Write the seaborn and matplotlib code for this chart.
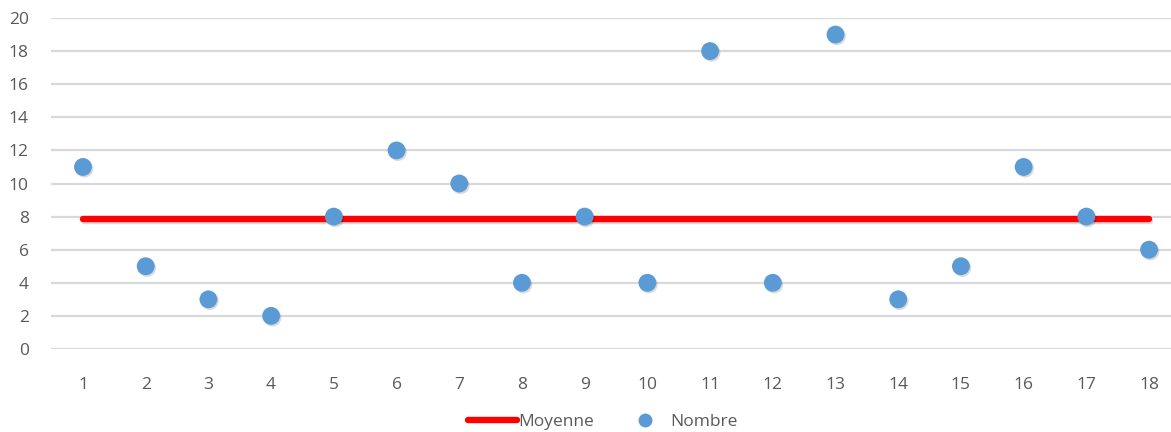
import numpy as np
import pandas as pd
import matplotlib
matplotlib.use("Agg")
import matplotlib.pyplot as plt
import matplotlib.patheffects as pe
from matplotlib.lines import Line2D
import seaborn as sns

# Data
positions = list(range(1, 19))
nombre = [11, 5, 3, 2, 8, 12, 10, 4, 8, 4, 18, 4, 19, 3, 5, 11, 8, 6]
moyenne_value = 141 / 18
y_ticks = [0, 2, 4, 6, 8, 10, 12, 14, 16, 18, 20]

df = pd.DataFrame({"x": positions, "Nombre": nombre,
                   "Moyenne": [moyenne_value] * len(positions)})

sns.set_theme(style="white")
plt.rcParams["font.family"] = ["Open Sans", "DejaVu Sans"]

fig = plt.figure(figsize=(11.71, 4.32), dpi=100)
ax = fig.add_axes([51 / 1171, 1 - 349 / 432, 1 - 51 / 1171, (349 - 18) / 432])

blue = "#5B9BD5"
red = "#FF0000"
grey_text = "#595959"

line_shadow = [pe.SimpleLineShadow(offset=(1, -1.2), shadow_color="#000000", alpha=0.15),
               pe.Normal()]

sns.lineplot(data=df, x="x", y="Moyenne", ax=ax, color=red, linewidth=4.6,
             solid_capstyle="round", zorder=3, path_effects=line_shadow, legend=False)
sns.scatterplot(data=df, x="x", y="Nombre", ax=ax, color=blue, s=165,
                edgecolor="none", zorder=4, legend=False)
for coll in ax.collections:
    coll.set_path_effects([pe.withSimplePatchShadow(offset=(1, -1.2),
                                                    shadow_rgbFace="#000000", alpha=0.15)])

ax.set_xlim(0.49, 18.35)
ax.set_ylim(0, 20)
ax.set_yticks(y_ticks)
ax.set_xticks(positions)
ax.yaxis.grid(True, color="#D9D9D9", linewidth=1.6)
ax.xaxis.grid(False)
for s in ax.spines.values():
    s.set_visible(False)
ax.set_xlabel("")
ax.set_ylabel("")
ax.tick_params(axis="both", length=0, labelsize=12.5, labelcolor=grey_text)
ax.tick_params(axis="x", pad=20)
ax.tick_params(axis="y", pad=16)
ax.set_axisbelow(True)

handles = [Line2D([0], [0], color=red, linewidth=4.6, solid_capstyle="round"),
           Line2D([0], [0], marker="o", linestyle="none", color=blue,
                  markersize=10, markeredgewidth=0)]
fig.legend(handles, ["Moyenne", "Nombre"], loc="center", bbox_to_anchor=(0.515, 1 - 422 / 432),
           ncol=2, frameon=False, fontsize=12.5, labelcolor=grey_text,
           handlelength=2.8, handletextpad=0.1, columnspacing=1.5)

fig.savefig("out.png", dpi=100)
